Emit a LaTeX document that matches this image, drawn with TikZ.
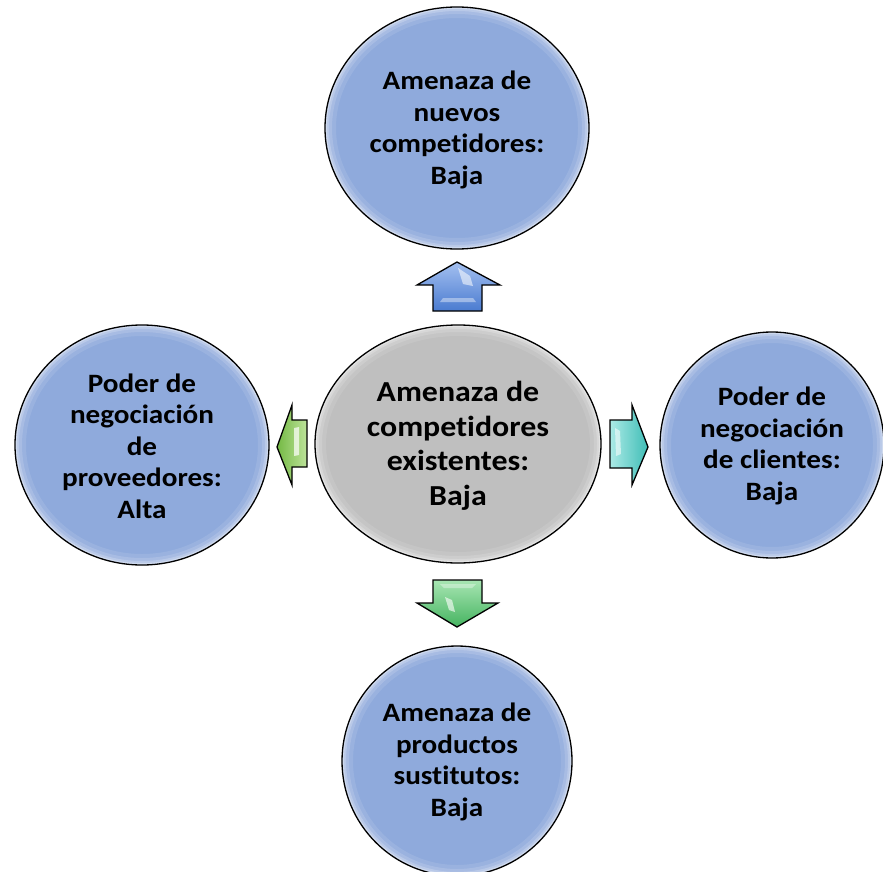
\documentclass[tikz,border=0pt]{standalone}
\usepackage{fontspec}
\setmainfont{Carlito}[Ligatures=NoCommon, FakeStretch=1.1]
\usetikzlibrary{shapes.geometric}
\definecolor{circblue}{HTML}{8FAADC}
\definecolor{circgray}{HTML}{BFBFBF}
\definecolor{upT}{HTML}{A4C0F0}
\definecolor{upB}{HTML}{4A7BD0}
\definecolor{lfD}{HTML}{74B944}
\definecolor{lfL}{HTML}{BDE39A}
\definecolor{rtL}{HTML}{ABEAE6}
\definecolor{rtD}{HTML}{3FBDB6}
\definecolor{dnT}{HTML}{A8E6B3}
\definecolor{dnB}{HTML}{45B360}
\tikzset{
  glossy/.style n args={3}{ellipse, draw=black, line width=1.3pt, fill=#1, inner sep=0pt,
    minimum width={2*#2 pt}, minimum height={2*#3 pt},
    path picture={
      \foreach \w/\o in {22/0.10,14/0.14,8/0.2,4/0.3}
        \draw[white, opacity=\o, line width=\w pt] (path picture bounding box.center) ellipse [x radius=#2pt, y radius=#3pt];
    }},
  lbl/.style={align=center, font=\bfseries\fontsize{26.5}{31.5}\selectfont, inner sep=0pt},
  biglbl/.style={align=center, font=\bfseries\fontsize{29}{34.5}\selectfont, inner sep=0pt},
  blockarrow/.style={draw=black, line width=1.3pt, line join=miter},
  hl/.style={fill=white, opacity=0.55, draw=none}
}
\begin{document}
\begin{tikzpicture}[x=1pt, y=-1pt]
\useasboundingbox (0,0) rectangle (883,872);
\clip (0,0) rectangle (883,872);
% circles
\node[glossy={circblue}{132}{121}] (ctop) at (457,128) {};
\node[glossy={circblue}{127}{120}] (cleft) at (142,445) {};
\node[glossy={circblue}{112}{113}] (cright) at (772,445) {};
\node[glossy={circblue}{115}{115}] (cbot) at (457,761) {};
\node[glossy={circgray}{143}{119}] (ccen) at (458,444) {};
% labels
\node[lbl] (ttop) at (ctop.center) [yshift=-2pt] {Amenaza de\\nuevos\\competidores:\\Baja};
\node[lbl] (tleft) at (cleft.center) [yshift=-1pt] {Poder de\\negociación\\de\\proveedores:\\Alta};
\node[lbl] (tright) at (cright.center) [yshift=-1pt] {Poder de\\negociación\\de clientes:\\Baja};
\node[lbl] (tbot) at (cbot.center) [yshift=-1pt] {Amenaza de\\productos\\sustitutos:\\Baja};
\node[biglbl] (tcen) at (ccen.center) [yshift=-2pt] {Amenaza de\\competidores\\existentes:\\Baja};
% up arrow
\path[blockarrow, top color=upT, bottom color=upB]
  (457,262) -- (500,285) -- (482,285) -- (482,311) -- (433,311) -- (433,285) -- (417,285) -- cycle;
\path[hl] (458,268) -- (470,276) -- (473,286) -- (463,284) -- cycle;
\path[hl, opacity=0.4] (440,302) -- (476,302) -- (473,298) -- (443,298) -- cycle;
% left arrow
\path[blockarrow, left color=lfD, right color=lfL]
  (277,447) -- (292,405) -- (292,420) -- (307,420) -- (307,467) -- (292,467) -- (292,485) -- cycle;
\path[hl, opacity=0.7] (294,428) -- (299,427) -- (299,455) -- (294,456) -- cycle;
% right arrow
\path[blockarrow, left color=rtL, right color=rtD]
  (648,447) -- (632,405) -- (632,420) -- (610,420) -- (610,468) -- (632,468) -- (632,485) -- cycle;
\path[hl] (615,428) -- (620,431) -- (621,454) -- (616,456) -- cycle;
% down arrow
\path[blockarrow, top color=dnT, bottom color=dnB]
  (457,627) -- (498,603) -- (482,603) -- (482,580) -- (433,580) -- (433,603) -- (417,603) -- cycle;
\path[hl, opacity=0.6] (445,597) -- (452,600) -- (455,612) -- (449,610) -- cycle;
\path[hl, opacity=0.35] (440,584) -- (476,584) -- (472,588) -- (444,588) -- cycle;
\end{tikzpicture}
\end{document}
